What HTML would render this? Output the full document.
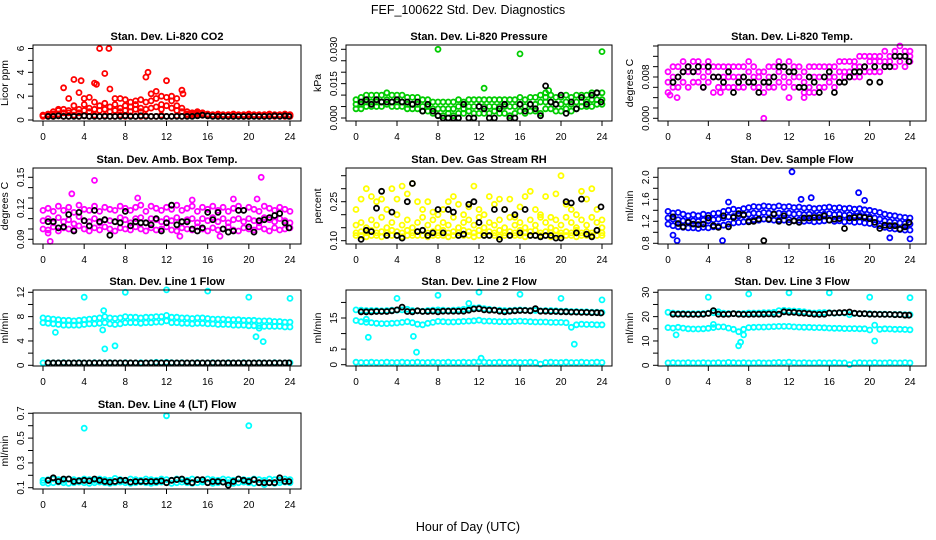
<!DOCTYPE html>
<html><head><meta charset="utf-8"><style>
html,body{margin:0;padding:0;background:#fff;}
svg{display:block;font-family:"Liberation Sans",Arial,sans-serif;}
</style></head><body>
<svg id="chart" width="936" height="540" viewBox="0 0 936 540">
<text x="468" y="14" font-size="12.5" text-anchor="middle">FEF_100622  Std. Dev. Diagnostics</text>
<text x="468" y="531" font-size="12.5" text-anchor="middle">Hour of Day (UTC)</text>
</svg>
<script>
// ---------------- DATA ----------------
const hours=[0,0.5,1,1.5,2,2.5,3,3.5,4,4.5,5,5.5,6,6.5,7,7.5,8,8.5,9,9.5,10,10.5,11,11.5,12,12.5,13,13.5,14,14.5,15,15.5,16,16.5,17,17.5,18,18.5,19,19.5,20,20.5,21,21.5,22,22.5,23,23.5,24];
const blackHours=[0.5,1,1.5,2,2.5,3,3.5,4,4.5,5,5.5,6,6.5,7,7.5,8,8.5,9,9.5,10,10.5,11,11.5,12,12.5,13,13.5,14,14.5,15,15.5,16,16.5,17,17.5,18,18.5,19,19.5,20,20.5,21,21.5,22,22.5,23,23.5,23.9];
const xTicks=[0,4,8,12,16,20,24];

// CO2
const co2Low=[0.35,0.3,0.3,0.35,0.3,0.3,0.4,0.3,0.35,0.3,0.4,0.3,0.35,0.3,0.3,0.4,0.3,0.35,0.3,0.3,0.35,0.3,0.3,0.4,0.3,0.3,0.35,0.3,0.4,0.35,0.5,0.4,0.45,0.35,0.3,0.35,0.3,0.3,0.35,0.3,0.3,0.35,0.3,0.3,0.35,0.3,0.35,0.3,0.3];
const co2Mid=[0.4,0.4,0.5,0.8,0.9,0.8,1.2,0.9,1.3,1.0,1.5,1.2,1.4,1.1,1.3,1.0,1.2,1.1,1.3,1.0,1.5,1.6,1.8,1.3,1.9,1.6,1.2,1.0,0.5,0.5,0.6,0.5,0.45,0.4,0.45,0.4,0.4,0.45,0.4,0.4,0.45,0.4,0.4,0.4,0.45,0.4,0.4,0.4,0.4];
const co2Mid2=[0.3,0.35,0.4,0.5,0.6,0.6,0.7,0.6,0.8,0.7,0.9,0.8,0.9,0.7,0.8,0.7,0.8,0.7,0.9,0.7,0.9,1.0,1.1,0.9,1.2,1.0,0.8,0.7,0.4,0.4,0.4,0.4,0.35,0.35,0.4,0.35,0.35,0.4,0.35,0.35,0.4,0.35,0.35,0.35,0.4,0.35,0.35,0.35,0.35];
const co2High=[0.4,0.5,0.7,0.9,2.7,1.8,3.4,2.3,1.8,1.9,3.1,6.0,3.9,2.6,1.8,1.8,1.7,1.5,1.6,1.7,3.6,2.2,2.4,2.0,3.3,2.0,1.8,2.5,0.7,0.6,0.7,0.6,0.5,0.45,0.5,0.45,0.45,0.5,0.45,0.45,0.5,0.45,0.45,0.45,0.5,0.45,0.45,0.5,0.45];
const co2OutX=[6.4,3.7,10.2,5.2,13.6];
const co2OutY=[6.0,3.3,4.0,3.0,2.2];
const co2Black=[0.3,0.3,0.35,0.3,0.3,0.3,0.3,0.35,0.3,0.3,0.3,0.3,0.3,0.3,0.3,0.35,0.3,0.3,0.35,0.3,0.3,0.3,0.3,0.3,0.3,0.3,0.3,0.3,0.3,0.35,0.4,0.35,0.3,0.3,0.3,0.3,0.3,0.3,0.3,0.3,0.3,0.3,0.3,0.3,0.35,0.3,0.35,0.3];

// Pressure
const presA=[0.008,0.009,0.010,0.010,0.010,0.010,0.011,0.010,0.010,0.010,0.009,0.009,0.009,0.008,0.008,0.007,0.007,0.007,0.007,0.007,0.008,0.007,0.008,0.008,0.008,0.008,0.008,0.008,0.008,0.008,0.008,0.008,0.009,0.008,0.009,0.009,0.010,0.011,0.010,0.009,0.009,0.010,0.009,0.010,0.010,0.010,0.011,0.011,0.011];
const presB=[0.006,0.006,0.007,0.007,0.007,0.007,0.008,0.007,0.007,0.007,0.006,0.006,0.006,0.005,0.005,0.004,0.004,0.004,0.004,0.004,0.005,0.004,0.005,0.005,0.005,0.005,0.005,0.005,0.005,0.005,0.005,0.005,0.006,0.005,0.006,0.006,0.007,0.007,0.007,0.006,0.006,0.007,0.006,0.007,0.007,0.007,0.008,0.008,0.008];
const presC=[0.004,0.004,0.005,0.005,0.005,0.005,0.006,0.005,0.005,0.005,0.004,0.004,0.004,0.003,0.003,0.002,0.001,0.001,0.002,0.001,0.002,0.002,0.003,0.002,0.002,0.002,0.002,0.003,0.002,0.002,0.001,0.002,0.003,0.002,0.003,0.003,0.002,0.004,0.004,0.003,0.003,0.004,0.003,0.004,0.005,0.005,0.005,0.006,0.006];
const presOutX=[8,12.5,16,18.8,24,18.5];
const presOutY=[0.030,0.013,0.028,0.012,0.029,0.009];
const presBlack=[0.007,0.008,0.006,0.008,0.007,0.007,0.007,0.008,0.007,0.007,0.006,0.007,0.003,0.006,0.003,0.001,0.0,0.0,0.0,0.0,0.006,0.0,0.0,0.005,0.004,0.0,0.0,0.004,0.006,0.0,0.0,0.006,0.003,0.006,0.004,0.001,0.014,0.007,0.006,0.010,0.002,0.007,0.004,0.009,0.006,0.010,0.011,0.007];

// Li-820 temp
const tmpA=[0.009,0.010,0.010,0.011,0.010,0.011,0.011,0.010,0.011,0.010,0.010,0.010,0.010,0.010,0.010,0.010,0.011,0.010,0.009,0.009,0.010,0.010,0.011,0.010,0.011,0.010,0.010,0.009,0.010,0.010,0.010,0.010,0.010,0.010,0.011,0.011,0.011,0.011,0.012,0.012,0.012,0.012,0.012,0.013,0.012,0.013,0.014,0.013,0.013];
const tmpB=[0.007,0.008,0.008,0.009,0.009,0.009,0.009,0.008,0.009,0.008,0.008,0.008,0.008,0.008,0.008,0.008,0.009,0.008,0.008,0.007,0.008,0.008,0.009,0.008,0.009,0.008,0.008,0.007,0.008,0.008,0.008,0.008,0.008,0.008,0.009,0.009,0.009,0.010,0.010,0.010,0.011,0.011,0.011,0.011,0.011,0.012,0.012,0.012,0.012];
const tmpC=[0.005,0.006,0.006,0.007,0.006,0.007,0.007,0.006,0.007,0.005,0.006,0.006,0.006,0.006,0.006,0.006,0.007,0.006,0.006,0.005,0.006,0.006,0.007,0.006,0.007,0.006,0.006,0.005,0.006,0.005,0.006,0.006,0.007,0.006,0.007,0.008,0.008,0.008,0.008,0.009,0.009,0.009,0.009,0.010,0.010,0.010,0.011,0.010,0.011];
const tmpOutX=[9.5,0.9,12,13.5,14,5.2,0.2];
const tmpOutY=[0.000,0.004,0.004,0.004,0.005,0.005,0.0045];
const tmpBlack=[0.007,0.008,0.009,0.010,0.009,0.010,0.006,0.010,0.008,0.008,0.007,0.009,0.005,0.007,0.008,0.007,0.007,0.005,0.007,0.007,0.008,0.010,0.010,0.009,0.009,0.006,0.006,0.008,0.007,0.005,0.008,0.009,0.005,0.007,0.007,0.008,0.009,0.009,0.010,0.007,0.010,0.007,0.010,0.010,0.012,0.012,0.012,0.011];

// Amb box temp
const ambA=[0.118,0.120,0.117,0.122,0.118,0.121,0.116,0.123,0.119,0.118,0.122,0.117,0.121,0.119,0.118,0.122,0.120,0.118,0.121,0.123,0.117,0.122,0.120,0.118,0.121,0.119,0.123,0.118,0.120,0.122,0.117,0.121,0.119,0.122,0.118,0.121,0.117,0.120,0.122,0.118,0.121,0.119,0.117,0.122,0.120,0.118,0.121,0.119,0.117];
const ambB=[0.108,0.110,0.106,0.111,0.107,0.109,0.105,0.112,0.108,0.107,0.110,0.106,0.109,0.108,0.107,0.111,0.109,0.106,0.110,0.111,0.106,0.110,0.109,0.107,0.110,0.108,0.111,0.107,0.109,0.110,0.106,0.110,0.108,0.111,0.107,0.110,0.106,0.109,0.110,0.107,0.110,0.108,0.106,0.111,0.109,0.107,0.110,0.108,0.106];
const ambC=[0.100,0.099,0.102,0.098,0.101,0.100,0.099,0.103,0.100,0.098,0.101,0.099,0.102,0.100,0.098,0.101,0.100,0.099,0.102,0.100,0.098,0.101,0.099,0.100,0.102,0.099,0.098,0.101,0.100,0.099,0.102,0.100,0.098,0.101,0.099,0.100,0.102,0.099,0.098,0.101,0.100,0.099,0.102,0.100,0.098,0.101,0.099,0.100,0.101];
const ambOutX=[0.7,5.0,2.8,21.2,13.3,17.2,0.5,9.2,14.5,18.5,20.8];
const ambOutY=[0.088,0.147,0.134,0.150,0.093,0.093,0.096,0.130,0.128,0.129,0.129];
const ambBlack=[0.107,0.107,0.101,0.102,0.114,0.098,0.116,0.108,0.103,0.118,0.107,0.109,0.094,0.107,0.106,0.117,0.103,0.107,0.106,0.106,0.104,0.110,0.098,0.106,0.123,0.104,0.107,0.107,0.100,0.098,0.101,0.116,0.109,0.116,0.100,0.097,0.098,0.118,0.118,0.102,0.097,0.108,0.109,0.111,0.113,0.115,0.106,0.101];

// Gas stream RH
const rhLow=[0.12,0.12,0.115,0.12,0.12,0.115,0.12,0.12,0.12,0.115,0.12,0.12,0.12,0.12,0.115,0.12,0.12,0.12,0.115,0.12,0.12,0.12,0.12,0.115,0.12,0.12,0.12,0.12,0.115,0.12,0.12,0.12,0.12,0.115,0.12,0.12,0.12,0.12,0.115,0.12,0.12,0.12,0.12,0.115,0.12,0.12,0.12,0.12,0.12];
const rhLow2=[0.13,0.135,0.13,0.14,0.13,0.135,0.13,0.14,0.135,0.13,0.14,0.13,0.135,0.14,0.13,0.135,0.13,0.14,0.13,0.135,0.13,0.14,0.135,0.13,0.14,0.13,0.135,0.13,0.14,0.13,0.135,0.13,0.14,0.13,0.135,0.14,0.13,0.135,0.13,0.14,0.13,0.135,0.13,0.14,0.13,0.135,0.13,0.14,0.13];
const rhMid=[0.16,0.17,0.15,0.18,0.16,0.19,0.15,0.17,0.20,0.16,0.18,0.15,0.17,0.19,0.16,0.18,0.15,0.17,0.16,0.19,0.15,0.17,0.18,0.16,0.19,0.15,0.17,0.16,0.18,0.15,0.19,0.16,0.17,0.15,0.18,0.16,0.19,0.17,0.15,0.18,0.16,0.19,0.17,0.15,0.18,0.16,0.19,0.17,0.15];
const rhHigh=[0.22,0.26,0.30,0.27,0.25,0.26,0.22,0.30,0.26,0.31,0.28,0.32,0.25,0.22,0.25,0.21,0.20,0.22,0.25,0.27,0.24,0.20,0.23,0.31,0.22,0.20,0.27,0.24,0.26,0.22,0.26,0.19,0.23,0.27,0.29,0.22,0.20,0.27,0.19,0.28,0.35,0.24,0.22,0.20,0.29,0.26,0.30,0.22,0.18];
const rhBlack=[0.105,0.14,0.135,0.225,0.29,0.12,0.21,0.12,0.11,0.25,0.32,0.135,0.14,0.12,0.13,0.22,0.13,0.22,0.21,0.12,0.125,0.24,0.25,0.17,0.12,0.12,0.22,0.105,0.22,0.12,0.20,0.13,0.22,0.12,0.12,0.115,0.12,0.12,0.11,0.11,0.25,0.245,0.13,0.26,0.125,0.115,0.14,0.23];

// Sample flow
const sfA=[1.38,1.35,1.36,1.33,1.30,1.32,1.30,1.33,1.31,1.34,1.35,1.38,1.40,1.42,1.40,1.43,1.45,1.47,1.46,1.48,1.47,1.46,1.48,1.46,1.47,1.45,1.46,1.44,1.45,1.43,1.44,1.45,1.46,1.44,1.45,1.43,1.44,1.42,1.43,1.41,1.40,1.38,1.36,1.33,1.31,1.30,1.28,1.27,1.26];
const sfB=[1.26,1.24,1.23,1.21,1.20,1.21,1.20,1.22,1.21,1.23,1.24,1.26,1.28,1.29,1.30,1.31,1.33,1.35,1.34,1.36,1.35,1.34,1.35,1.34,1.35,1.33,1.34,1.32,1.33,1.31,1.32,1.33,1.34,1.32,1.33,1.31,1.32,1.30,1.31,1.29,1.28,1.26,1.24,1.21,1.19,1.18,1.17,1.16,1.15];
const sfC=[1.15,1.12,1.10,1.09,1.08,1.08,1.07,1.09,1.08,1.10,1.11,1.13,1.15,1.17,1.18,1.19,1.21,1.23,1.22,1.24,1.23,1.22,1.23,1.22,1.23,1.21,1.22,1.20,1.21,1.19,1.20,1.21,1.22,1.20,1.21,1.19,1.20,1.18,1.19,1.17,1.16,1.14,1.12,1.09,1.07,1.06,1.05,1.04,1.04];
const sfOutX=[12.3,18.9,0.9,5.4,22.0,24.0,0.5,19.5,14.2,6.0,13.2];
const sfOutY=[2.10,1.72,0.85,0.85,0.90,0.88,0.95,1.58,1.63,1.55,1.60];
const sfBlack=[1.28,1.16,1.10,1.18,1.15,1.14,1.15,1.26,1.12,1.09,1.30,1.10,1.27,1.34,1.32,1.19,1.20,1.24,0.85,1.24,1.33,1.20,1.30,1.18,1.21,1.18,1.26,1.26,1.27,1.27,1.30,1.22,1.24,1.25,1.07,1.26,1.27,1.28,1.27,1.25,1.18,1.07,1.13,1.12,1.12,1.06,1.10,1.18];

// Line 1 flow
const l1A=[7.8,7.7,7.6,7.5,7.4,7.4,7.3,7.4,7.5,7.6,7.7,7.8,8.0,7.8,7.7,7.8,8.0,7.9,7.9,7.8,7.9,7.9,8.0,8.0,8.2,7.9,7.9,7.8,7.8,7.7,7.8,7.8,7.7,7.6,7.6,7.6,7.5,7.5,7.5,7.4,7.4,7.4,7.3,7.3,7.3,7.2,7.2,7.1,7.1];
const l1B=[7.0,6.9,6.8,6.7,6.6,6.6,6.6,6.6,6.7,6.8,6.8,6.9,7.0,6.8,6.7,6.8,7.0,7.0,7.0,6.9,7.0,7.0,7.1,7.1,7.3,7.0,7.0,6.9,6.9,6.8,6.9,6.9,6.8,6.8,6.7,6.7,6.7,6.6,6.6,6.6,6.5,6.5,6.5,6.4,6.4,6.4,6.4,6.3,6.3];
const l1Low=[0.4,0.45,0.4,0.4,0.45,0.4,0.4,0.45,0.4,0.4,0.45,0.4,0.4,0.45,0.4,0.4,0.45,0.4,0.4,0.45,0.4,0.45,0.5,0.45,0.5,0.45,0.4,0.45,0.4,0.4,0.45,0.4,0.4,0.45,0.4,0.4,0.45,0.4,0.4,0.45,0.4,0.4,0.45,0.4,0.4,0.45,0.4,0.4,0.45];
const l1OutX=[4,8,12,16,20,24,6,7,1.2,5.8,20.7,21.4,5.9,21.0];
const l1OutY=[11.2,12.0,12.4,12.2,11.2,11.0,2.7,3.2,5.4,5.8,4.7,3.9,9.0,6.1];
const l1Black=[0.4,0.4,0.4,0.4,0.4,0.4,0.4,0.4,0.4,0.4,0.4,0.4,0.4,0.4,0.4,0.4,0.4,0.4,0.35,0.4,0.4,0.4,0.4,0.4,0.4,0.4,0.4,0.4,0.4,0.4,0.4,0.4,0.4,0.4,0.4,0.4,0.4,0.4,0.4,0.4,0.4,0.4,0.4,0.4,0.4,0.4,0.4,0.4];

// Line 2 flow
const l2Top=[17.6,17.5,17.4,17.4,17.4,17.3,17.4,17.5,17.5,17.6,17.8,17.4,17.3,17.2,17.4,17.5,17.6,17.5,17.4,17.5,17.6,17.8,18.0,18.2,18.3,18.0,17.8,17.6,17.5,17.4,17.4,17.5,17.6,17.5,17.4,17.4,17.3,17.4,17.4,17.3,17.2,17.2,17.1,17.1,17.0,17.0,16.9,16.9,16.8];
const l2Mid=[14.2,13.8,13.6,13.5,13.3,13.2,13.2,13.3,13.4,13.6,13.8,13.5,13.0,12.8,13.3,13.6,13.9,13.8,13.7,13.7,13.8,13.9,14.0,14.1,14.3,14.0,14.0,13.9,13.8,13.8,13.8,13.9,14.0,13.9,13.8,13.7,13.7,13.7,13.6,13.6,13.6,13.5,12.0,12.8,13.0,12.9,12.9,12.8,12.8];
const l2Low=[0.8,0.7,0.7,0.8,0.7,0.7,0.8,0.7,0.7,0.8,0.7,0.7,0.8,0.7,0.7,0.8,0.7,0.7,0.8,0.7,0.7,0.8,0.7,0.8,0.9,0.8,0.7,0.7,0.8,0.7,0.7,0.8,0.7,0.7,0.8,0.7,0.2,0.7,0.8,0.7,0.7,0.8,0.7,0.7,0.8,0.7,0.7,0.8,0.7];
const l2OutX=[4,8,12,16,20,24,1.2,5.6,5.9,21.3,11,12.2,1.0];
const l2OutY=[21.3,22.3,23.3,22.6,21.3,20.8,8.8,9.1,4.0,6.6,19.7,2.1,14.6];
const l2Black=[17.0,17.0,17.0,17.1,17.1,17.1,17.3,17.6,18.5,17.1,17.0,17.3,17.1,17.1,17.2,17.0,17.2,17.2,17.2,17.2,17.2,17.5,17.9,18.0,17.6,17.5,17.5,17.2,17.0,17.2,17.3,17.4,17.4,17.3,18.0,17.2,17.2,17.1,17.1,17.0,17.0,16.9,16.9,16.8,16.8,16.7,16.7,16.6];

// Line 3 flow
const l3Top=[21.8,21.5,21.3,21.3,21.2,21.2,21.2,21.3,21.4,21.6,22.0,21.4,21.3,21.3,21.2,21.3,21.5,21.5,21.5,21.6,21.6,21.8,22.5,22.6,22.4,22.3,22.2,22.0,21.6,21.5,21.6,21.7,21.6,21.4,21.5,21.5,20.8,21.3,21.2,21.2,21.2,21.0,21.0,21.0,20.9,20.9,20.9,20.8,20.8];
const l3Mid=[15.5,15.3,15.6,15.3,15.0,14.9,14.9,15.0,15.2,15.5,15.8,15.8,15.3,14.8,13.8,14.8,15.5,15.6,15.7,15.7,15.8,15.9,16.0,16.0,16.0,15.8,15.7,15.6,15.6,15.5,15.5,15.4,15.3,15.2,15.2,15.1,15.1,15.1,15.0,15.0,14.5,16.5,14.8,15.0,14.9,14.8,14.8,14.7,14.6];
const l3Low=[1.0,1.1,1.0,1.0,1.1,1.0,1.0,1.1,1.0,1.0,1.1,1.0,1.2,1.1,1.0,1.1,1.0,1.0,1.1,1.0,1.0,1.1,1.2,1.1,1.3,1.1,1.0,1.1,1.0,1.0,1.1,1.0,1.0,1.1,1.0,1.0,0.3,1.0,1.1,1.0,1.0,1.1,1.0,1.0,1.1,1.0,1.0,1.1,1.0];
const l3OutX=[4,8,12,16,20,24,7,7.5,20.5,0.8,7.2,4.5];
const l3OutY=[28.0,29.3,29.8,29.8,28.0,27.8,8.0,12.5,10.0,12.5,9.5,16.8];
const l3Black=[21.0,21.0,21.0,20.9,20.9,20.9,21.0,21.3,22.5,21.0,20.9,21.0,21.2,21.0,20.9,20.9,21.0,21.0,21.0,21.1,21.0,21.0,22.0,21.8,21.8,21.5,21.4,21.2,21.0,20.9,21.0,21.5,21.5,21.6,21.7,21.9,21.4,21.2,21.2,21.0,21.0,20.9,20.9,20.9,20.8,20.8,20.6,20.6];

// Line 4 flow
const l4A=[0.16,0.165,0.17,0.165,0.16,0.17,0.165,0.16,0.17,0.165,0.16,0.17,0.165,0.16,0.175,0.165,0.16,0.17,0.165,0.16,0.17,0.165,0.16,0.17,0.165,0.16,0.17,0.165,0.16,0.17,0.165,0.16,0.17,0.165,0.16,0.17,0.165,0.16,0.17,0.165,0.16,0.17,0.165,0.16,0.17,0.165,0.16,0.17,0.165];
const l4B=[0.14,0.135,0.14,0.145,0.14,0.135,0.14,0.145,0.14,0.135,0.14,0.145,0.14,0.135,0.14,0.145,0.14,0.135,0.14,0.145,0.14,0.135,0.14,0.145,0.14,0.135,0.14,0.145,0.14,0.135,0.14,0.145,0.14,0.135,0.14,0.145,0.14,0.135,0.14,0.145,0.14,0.135,0.14,0.125,0.14,0.135,0.14,0.145,0.14];
const l4OutX=[4,12,20];
const l4OutY=[0.58,0.68,0.60];
const l4Black=[0.16,0.18,0.15,0.17,0.17,0.15,0.155,0.16,0.155,0.17,0.16,0.15,0.145,0.15,0.16,0.16,0.145,0.15,0.15,0.15,0.15,0.15,0.155,0.14,0.16,0.165,0.17,0.15,0.14,0.165,0.165,0.14,0.15,0.15,0.145,0.12,0.15,0.17,0.16,0.15,0.165,0.14,0.14,0.14,0.14,0.18,0.15,0.15];

// tick values/labels per panel
const co2Ticks=[0,1,2,3,4,5,6], co2Labels=[0,2,4,6];
const presTicks=[0,0.005,0.01,0.015,0.02,0.025,0.03], presLabels=["0.000","0.015","0.030"];
const tmpTicks=[0,0.002,0.004,0.006,0.008,0.01,0.012,0.014], tmpLabels=["0.000","0.008"];
const ambTicks=[0.09,0.10,0.11,0.12,0.13,0.14,0.15], ambLabels=["0.09","0.12","0.15"];
const rhTicks=[0.10,0.15,0.20,0.25,0.30,0.35], rhLabels=["0.10","0.25"];
const sfTicks=[0.8,1.0,1.2,1.4,1.6,1.8,2.0], sfLabels=["0.8","1.2","1.6","2.0"];
const l1Ticks=[0,2,4,6,8,10,12], l1Labels=["0","4","8","12"];
const l2Ticks=[0,5,10,15,20], l2Labels=["0","5","15"];
const l3Ticks=[0,5,10,15,20,25,30], l3Labels=["0","10","20","30"];
const l4Ticks=[0.1,0.2,0.3,0.4,0.5,0.6,0.7], l4Labels=["0.1","0.3","0.5","0.7"];

// ---------------- LAYOUT ----------------
const NS="http://www.w3.org/2000/svg";
const svg=document.getElementById('chart');
const cols=[{l:33,r:301,x0:43,x24:290},{l:346,r:612,x0:356,x24:602},{l:658,r:926,x0:668,x24:910}];
const rows=[{t:45,b:121},{t:168,b:244},{t:290,b:366},{t:413,b:489}];
function el(tag,attrs,parent){const e=document.createElementNS(NS,tag);for(const k in attrs)e.setAttribute(k,attrs[k]);(parent||svg).appendChild(e);return e;}

const panels=[
 {key:'co2',title:'Stan. Dev. Li-820 CO2',ylab:'Licor ppm',c:0,r:0,v0:0,p0:120,v1:6,p1:48.5,ticks:co2Ticks,labels:co2Labels,
  series:[[hours,co2Low,'#ff0000'],[hours,co2Mid2,'#ff0000'],[hours,co2Mid,'#ff0000'],[hours,co2High,'#ff0000'],[co2OutX,co2OutY,'#ff0000'],[blackHours,co2Black,'#000']]},
 {key:'pressure',title:'Stan. Dev. Li-820 Pressure',ylab:'kPa',c:1,r:0,v0:0,p0:118,v1:0.03,p1:49.3,ticks:presTicks,labels:presLabels,
  series:[[hours,presA,'#00cc00'],[hours,presB,'#00cc00'],[hours,presC,'#00cc00'],[presOutX,presOutY,'#00cc00'],[blackHours,presBlack,'#000']]},
 {key:'li820-temp',title:'Stan. Dev. Li-820 Temp.',ylab:'degrees C',c:2,r:0,v0:0,p0:118.3,v1:0.014,p1:46,ticks:tmpTicks,labels:tmpLabels,
  series:[[hours,tmpA,'#ff00ff'],[hours,tmpB,'#ff00ff'],[hours,tmpC,'#ff00ff'],[tmpOutX,tmpOutY,'#ff00ff'],[blackHours,tmpBlack,'#000']]},
 {key:'amb-temp',title:'Stan. Dev. Amb. Box Temp.',ylab:'degrees C',c:0,r:1,v0:0.09,p0:239.3,v1:0.15,p1:177.3,ticks:ambTicks,labels:ambLabels,
  series:[[hours,ambA,'#ff00ff'],[hours,ambB,'#ff00ff'],[hours,ambC,'#ff00ff'],[ambOutX,ambOutY,'#ff00ff'],[blackHours,ambBlack,'#000']]},
 {key:'gas-rh',title:'Stan. Dev. Gas Stream RH',ylab:'percent',c:1,r:1,v0:0.10,p0:240.7,v1:0.35,p1:175.7,ticks:rhTicks,labels:rhLabels,
  series:[[hours,rhLow,'#ffff00'],[hours,rhLow2,'#ffff00'],[hours,rhMid,'#ffff00'],[hours,rhHigh,'#ffff00'],[blackHours,rhBlack,'#000']]},
 {key:'sample-flow',title:'Stan. Dev. Sample Flow',ylab:'ml/min',c:2,r:1,v0:0.8,p0:243.3,v1:2.0,p1:177.3,ticks:sfTicks,labels:sfLabels,
  series:[[hours,sfA,'#0000ff'],[hours,sfB,'#0000ff'],[hours,sfC,'#0000ff'],[sfOutX,sfOutY,'#0000ff'],[blackHours,sfBlack,'#000']]},
 {key:'line1-flow',title:'Stan. Dev. Line 1 Flow',ylab:'ml/min',c:0,r:2,v0:0,p0:365.3,v1:12,p1:292.3,ticks:l1Ticks,labels:l1Labels,
  series:[[hours,l1A,'#00ffff'],[hours,l1B,'#00ffff'],[hours,l1Low,'#00ffff'],[l1OutX,l1OutY,'#00ffff'],[blackHours,l1Black,'#000']]},
 {key:'line2-flow',title:'Stan. Dev. Line 2 Flow',ylab:'ml/min',c:1,r:2,v0:0,p0:364.7,v1:15,p1:318,ticks:l2Ticks,labels:l2Labels,
  series:[[hours,l2Top,'#00ffff'],[hours,l2Mid,'#00ffff'],[hours,l2Low,'#00ffff'],[l2OutX,l2OutY,'#00ffff'],[blackHours,l2Black,'#000']]},
 {key:'line3-flow',title:'Stan. Dev. Line 3 Flow',ylab:'ml/min',c:2,r:2,v0:0,p0:365.3,v1:30,p1:292.3,ticks:l3Ticks,labels:l3Labels,
  series:[[hours,l3Top,'#00ffff'],[hours,l3Mid,'#00ffff'],[hours,l3Low,'#00ffff'],[l3OutX,l3OutY,'#00ffff'],[blackHours,l3Black,'#000']]},
 {key:'line4-flow',title:'Stan. Dev. Line 4 (LT) Flow',ylab:'ml/min',c:0,r:3,v0:0.1,p0:487.7,v1:0.7,p1:413.3,ticks:l4Ticks,labels:l4Labels,
  series:[[hours,l4A,'#00ffff'],[hours,l4B,'#00ffff'],[l4OutX,l4OutY,'#00ffff'],[blackHours,l4Black,'#000']]}
];

panels.forEach(p=>{
  const C=cols[p.c],R=rows[p.r];
  const xs=h=>C.x0+(h/24)*(C.x24-C.x0);
  const ys=v=>p.p0+(v-p.v0)/(p.v1-p.v0)*(p.p1-p.p0);
  const g=el('g',{});
  
  
  const cx=(C.l+C.r)/2;
  const t=el('text',{x:cx,y:R.t-5,'font-size':11,'font-weight':'bold','text-anchor':'middle'},g);
  t.textContent=p.title;
  
  
  const ycx=C.l-25, ycy=(R.t+R.b)/2;
  const yl=el('text',{x:ycx,y:ycy,'font-size':10.5,'text-anchor':'middle',transform:`rotate(-90 ${ycx} ${ycy})`},g);
  yl.textContent=p.ylab;
  
  
  const pg=el('g',{fill:'none','stroke-width':1.8},g);
  
  
  p.series.forEach(s=>{
    const X=s[0],Y=s[1];
    for(let i=0;i<Y.length;i++){
      const c=el('circle',{cx:xs(X[i]).toFixed(1),cy:ys(Y[i]).toFixed(1),r:2.5,stroke:s[2]},pg);
      
      
    }
  });
  const bx=el('rect',{x:C.l,y:R.t,width:C.r-C.l,height:R.b-R.t,fill:'none',stroke:'#000','stroke-width':1},g);
  
  
  xTicks.forEach(h=>{
    const X=xs(h);
    const tk=el('line',{x1:X,x2:X,y1:R.b,y2:R.b+5,stroke:'#000'},g);
    
    
    const tl=el('text',{x:X,y:R.b+19,'font-size':10,'text-anchor':'middle'},g);
    tl.textContent=h;
    
    
  });
  p.ticks.forEach(v=>{
    const Y=ys(v);
    const tk=el('line',{x1:C.l-5,x2:C.l,y1:Y,y2:Y,stroke:'#000'},g);
    
    
  });
  p.labels.forEach(lb=>{
    const Y=ys(parseFloat(lb)); const X=C.l-9;
    const tl=el('text',{x:X,y:Y,'font-size':10,'text-anchor':'middle',transform:`rotate(-90 ${X} ${Y})`},g);
    tl.textContent=lb;
    
    
  });
});
</script>
</body></html>
